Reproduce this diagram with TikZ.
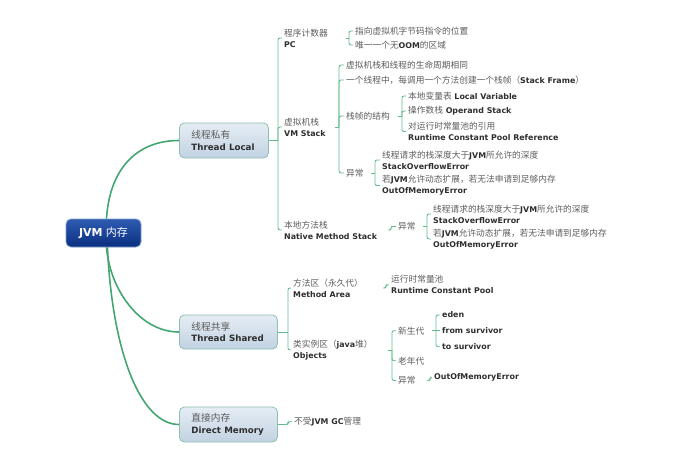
\documentclass[tikz,border=0pt]{standalone}
\usepackage{fontspec}
\setmainfont{DejaVu Sans}
\newfontfamily\cjk{Noto Sans CJK SC}
\definecolor{zhgray}{HTML}{5C5C5C}
\definecolor{engray}{HTML}{2E2E2E}
\definecolor{brgreen}{HTML}{62BC8E}
\definecolor{trunkgreen}{HTML}{44A672}
\definecolor{boxborder}{HTML}{8DBFB2}
\definecolor{boxtop}{HTML}{E5EDF4}
\definecolor{boxbot}{HTML}{C2D2E2}
\definecolor{roottop}{HTML}{2E5CB2}
\definecolor{rootbot}{HTML}{0A2E80}
\definecolor{rootborder}{HTML}{7F9CCB}
\newcommand{\zht}[1]{{\cjk\fontsize{8.7}{11}\selectfont\color{zhgray}#1}}
\newcommand{\ent}[1]{{\bfseries\fontsize{7.9}{11}\selectfont\color{engray}#1}}
\newcommand{\zhb}[1]{{\cjk\fontsize{9.7}{11.5}\selectfont\color{zhgray}#1}}
\newcommand{\enb}[1]{{\bfseries\fontsize{8.7}{11.5}\selectfont\color{engray}#1}}
\begin{document}
\begin{tikzpicture}[x=1pt,y=-1pt,
  lbl/.style={inner sep=0pt, anchor=west, align=left, font=\fontsize{8.7}{11}\selectfont},
  l1box/.style={anchor=west, inner xsep=12pt, inner ysep=0pt, rounded corners=5pt,
    draw=boxborder, line width=0.8pt, top color=boxtop, bottom color=boxbot,
    align=left, font=\fontsize{9.7}{11.5}\selectfont},
  rootbox/.style={rounded corners=5pt, draw=rootborder, line width=0.8pt,
    top color=roottop, bottom color=rootbot, minimum width=75pt, minimum height=28pt,
    text=white, inner sep=0pt},
  trunk/.style={draw=trunkgreen, line width=1.6pt},
  br/.style={draw=brgreen, line width=0.9pt, rounded corners=2pt}]
\useasboundingbox (0,0) rectangle (691,463);

% root
\node[rootbox] (root) at (103.5,233) {{\bfseries\fontsize{11}{13}\selectfont JVM} {\cjk\fontsize{11}{13}\selectfont 内存}};

% level 1 boxes
\node[l1box, text width=65pt, minimum height=35pt] (tl) at (179,140.5) {\zhb{线程私有}\\\enb{Thread Local}};
\node[l1box, text width=74pt, minimum height=34pt] (ts) at (179,332) {\zhb{线程共享}\\\enb{Thread Shared}};
\node[l1box, text width=74pt, minimum height=35pt] (dm) at (179,424.5) {\zhb{直接内存}\\\enb{Direct Memory}};

\draw[trunk] ([xshift=3pt]root.north) .. controls (110,165) and (140,140.5) .. (tl.west);
\draw[trunk] ([xshift=3pt]root.south) .. controls (110,290) and (140,332) .. (ts.west);
\draw[trunk] ([xshift=4pt]root.south) .. controls (112,350) and (140,424.5) .. (dm.west);

% ---------- Thread Local ----------
\node[lbl] (pc) at (284,38) {\zht{程序计数器}\\\ent{PC}};
\node[lbl] (vm) at (284,127) {\zht{虚拟机栈}\\\ent{VM Stack}};
\node[lbl] (nat) at (284,230) {\zht{本地方法栈}\\\ent{Native Method Stack}};
\coordinate (tlb) at (278,140.5);
\draw[br] (tl.east) -- (tlb);
\foreach \c in {pc,vm,nat} \draw[br] (tlb) |- ([xshift=-2pt]\c.west);

% PC children
\node[lbl] (pc1) at (355,31) {\zht{指向虚拟机字节码指令的位置}};
\node[lbl] (pc2) at (355,45) {\zht{唯一一个无}\ent{OOM}\zht{的区域}};
\coordinate (pcb) at (349,38);
\draw[br] ([xshift=-3pt]pcb) -- (pcb);
\foreach \c in {pc1,pc2} \draw[br] (pcb) |- ([xshift=-2pt]\c.west);

% VM Stack children
\node[lbl] (vm1) at (346,65) {\zht{虚拟机栈和线程的生命周期相同}};
\node[lbl] (vm2) at (346,80) {\zht{一个线程中，每调用一个方法创建一个栈帧（}\ent{Stack Frame}\zht{）}};
\node[lbl] (vm3) at (346,116) {\zht{栈帧的结构}};
\node[lbl] (vm4) at (346,173) {\zht{异常}};
\coordinate (vmb) at (339,127);
\draw[br] ([xshift=-4pt]vmb) -- (vmb);
\foreach \c in {vm1,vm2,vm3,vm4} \draw[br] (vmb) |- ([xshift=-2pt]\c.west);

% stack frame structure
\node[lbl] (sf1) at (408,96) {\zht{本地变量表} \ent{Local Variable}};
\node[lbl] (sf2) at (408,111) {\zht{操作数栈} \ent{Operand Stack}};
\node[lbl] (sf3) at (408,131.5) {\zht{对运行时常量池的引用}\\\ent{Runtime Constant Pool Reference}};
\coordinate (sfb) at (402,116);
\draw[br] ([xshift=-4pt]sfb) -- (sfb);
\foreach \c in {sf1,sf2,sf3} \draw[br] (sfb) |- ([xshift=-2pt]\c.west);

% VM exceptions
\node[lbl] (ex1) at (382,160) {\zht{线程请求的栈深度大于}\ent{JVM}\zht{所允许的深度}\\\ent{StackOverflowError}};
\node[lbl] (ex2) at (382,185.5) {\zht{若}\ent{JVM}\zht{允许动态扩展，若无法申请到足够内存}\\\ent{OutOfMemoryError}};
\coordinate (exb) at (375,173);
\draw[br] ([xshift=-4pt]exb) -- (exb);
\foreach \c in {ex1,ex2} \draw[br] (exb) |- ([xshift=-2pt]\c.west);

% Native method stack
\node[lbl] (na1) at (398,226.5) {\zht{异常}};
\coordinate (natb) at (391,230);
\draw[br] ([xshift=-3pt]natb) -- (natb) |- ([xshift=-2pt]na1.west);
\node[lbl] (nb1) at (433,214) {\zht{线程请求的栈深度大于}\ent{JVM}\zht{所允许的深度}\\\ent{StackOverflowError}};
\node[lbl] (nb2) at (433,239) {\zht{若}\ent{JVM}\zht{允许动态扩展，若无法申请到足够内存}\\\ent{OutOfMemoryError}};
\coordinate (nab) at (427,226.5);
\draw[br] ([xshift=-4pt]nab) -- (nab);
\foreach \c in {nb1,nb2} \draw[br] (nab) |- ([xshift=-2pt]\c.west);

% ---------- Thread Shared ----------
\node[lbl] (ma) at (293,288) {\zht{方法区（永久代）}\\\ent{Method Area}};
\node[lbl] (ob) at (293,350) {\zht{类实例区（}\ent{java}\zht{堆）}\\\ent{Objects}};
\coordinate (tsb) at (288,332);
\draw[br] (ts.east) -- (tsb);
\foreach \c in {ma,ob} \draw[br] (tsb) |- ([xshift=-2pt]\c.west);

\node[lbl] (rc) at (391,284.7) {\zht{运行时常量池}\\\ent{Runtime Constant Pool}};
\coordinate (mab) at (386,288);
\draw[br] ([xshift=-3pt]mab) -- (mab) |- ([xshift=-2pt]rc.west);

\node[lbl] (yg) at (398,330.7) {\zht{新生代}};
\node[lbl] (og) at (398,360.7) {\zht{老年代}};
\node[lbl] (oe) at (398,380.5) {\zht{异常}};
\coordinate (obb) at (392,350);
\draw[br] ([xshift=-4pt]obb) -- (obb);
\foreach \c in {yg,og,oe} \draw[br] (obb) |- ([xshift=-2pt]\c.west);

\node[lbl] (ed) at (442,315) {\ent{eden}};
\node[lbl] (fs) at (442,330.7) {\ent{from survivor}};
\node[lbl] (tsv) at (442,346.7) {\ent{to survivor}};
\coordinate (ygb) at (436,330.7);
\draw[br] ([xshift=-4pt]ygb) -- (ygb);
\foreach \c in {ed,tsv} \draw[br] (ygb) |- ([xshift=-2pt]\c.west);
\draw[br] (ygb) -- ([xshift=-2pt]fs.west);

\node[lbl] (oom) at (434,377.5) {\ent{OutOfMemoryError}};
\coordinate (oeb) at (430,380.5);
\draw[br] ([xshift=-3pt]oeb) -- (oeb) |- ([xshift=-2pt]oom.west);

% ---------- Direct Memory ----------
\node[lbl] (gc) at (294,421.7) {\zht{不受}\ent{JVM GC}\zht{管理}};
\coordinate (dmb) at (288,424.5);
\draw[br] (dm.east) -- (dmb) |- ([xshift=-2pt]gc.west);
\end{tikzpicture}
\end{document}
